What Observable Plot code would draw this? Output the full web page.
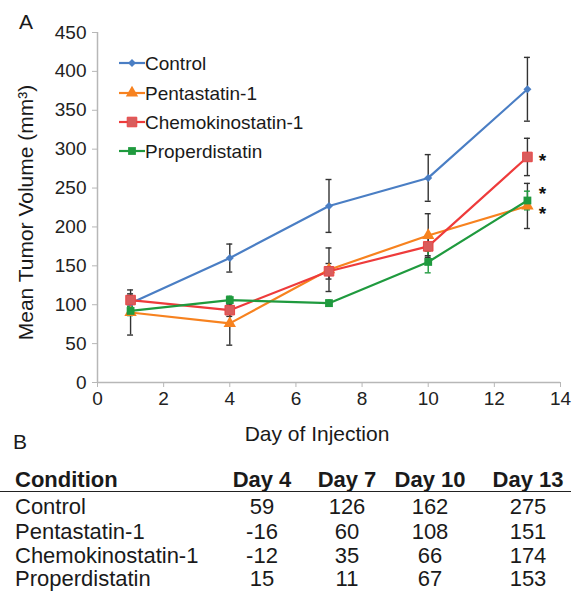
<!DOCTYPE html>
<html>
<head>
<meta charset="utf-8">
<script src="https://cdn.jsdelivr.net/npm/d3@7"></script>
<script src="https://cdn.jsdelivr.net/npm/@observablehq/plot@0.6"></script>
<style>
  html, body { margin: 0; padding: 0; background: #fff; }
  #wrap { position: relative; width: 579px; height: 597px; font-family: "Liberation Sans", Arial, sans-serif; color: #1a1a1a; overflow: hidden; }
  .abs { position: absolute; white-space: nowrap; line-height: 1; }
  .legrow { position: absolute; display: flex; align-items: center; font-size: 19px; line-height: 1; white-space: nowrap; }
  .c { transform: translateX(-50%); }
</style>
</head>
<body>
<div id="wrap"></div>
<script>
// ---- Data (panel A) ----
const days = [1, 4, 7, 10, 13];
const seriesNames = ["Control", "Pentastatin-1", "Chemokinostatin-1", "Properdistatin"];
const controlMean = [102, 160, 227, 263, 377];
const controlErr  = [10, 18, 34, 30, 41];
const pentaMean   = [90, 76, 145, 189, 227];
const pentaErr    = [29, 28, 28, 28, 29];
const chemoMean   = [106, 93, 143, 175, 290];
const chemoErr    = [8, 8, 10, 12, 24];
const properMean  = [92, 106, 102, 155, 234];
const properErr   = [6, 5, 4, 14, 12];
const significant = ["Chemokinostatin-1", "Properdistatin", "Pentastatin-1"]; // marked * at day 13
const xTicks = [0, 2, 4, 6, 8, 10, 12, 14];
const yTicks = [0, 50, 100, 150, 200, 250, 300, 350, 400, 450];

// ---- Data (panel B table) ----
const tableHeader = ["Condition", "Day 4", "Day 7", "Day 10", "Day 13"];
const tableConditions = ["Control", "Pentastatin-1", "Chemokinostatin-1", "Properdistatin"];
const tControl = [59, 126, 162, 275];
const tPenta   = [-16, 60, 108, 151];
const tChemo   = [-12, 35, 66, 174];
const tProper  = [15, 11, 67, 153];

// ---- Styles ----
const lineColors   = ["#4a7ec4", "#f7821f", "#ee3b3b", "#1f9a3e"];
const markerFills  = ["#4a7ec4", "#f7821f", "#d95c5c", "#1f9a3e"];
const markerSymbols = ["diamond2", "triangle", "square", "square"];
const markerR      = [3.6, 4.6, 5.4, 4.4];
const errColors    = ["#333", "#333", "#333", "#1f9a3e"];
const starDy       = {"Chemokinostatin-1": 4, "Properdistatin": -7, "Pentastatin-1": 8};

const means = [controlMean, pentaMean, chemoMean, properMean];
const errs = [controlErr, pentaErr, chemoErr, properErr];
const data = [];
seriesNames.forEach((s, i) => days.forEach((d, j) => data.push({series: s, si: i, day: d, value: means[i][j], err: errs[i][j]})));

const gray = "#b7b7b7";
const capHalf = 0.09;

const marks = [
  Plot.ruleY([0], {stroke: gray, strokeWidth: 1.5}),
  Plot.ruleX([0], {stroke: gray, strokeWidth: 1.5}),
  Plot.axisY({ticks: yTicks, tickSize: 5, tickPadding: 6, stroke: gray, fill: "#222", label: null, fontSize: 19}),
  Plot.axisX({ticks: xTicks, tickSize: 5, tickPadding: 4, stroke: gray, fill: "#222", label: null, fontSize: 19}),
  // error bars
  Plot.ruleX(data, {x: "day", y1: d => d.value - d.err, y2: d => d.value + d.err, stroke: d => errColors[d.si], strokeWidth: 1.4}),
  Plot.ruleY(data, {y: d => d.value - d.err, x1: d => d.day - capHalf, x2: d => d.day + capHalf, stroke: d => errColors[d.si], strokeWidth: 1.4}),
  Plot.ruleY(data, {y: d => d.value + d.err, x1: d => d.day - capHalf, x2: d => d.day + capHalf, stroke: d => errColors[d.si], strokeWidth: 1.4}),
];
seriesNames.forEach((s, i) => {
  const sd = data.filter(d => d.series === s);
  marks.push(Plot.line(sd, {x: "day", y: "value", stroke: lineColors[i], strokeWidth: 2.2}));
});
seriesNames.forEach((s, i) => {
  const sd = data.filter(d => d.series === s);
  marks.push(Plot.dot(sd, {x: "day", y: "value", symbol: () => markerSymbols[i], fill: markerFills[i], stroke: i === 2 ? "#e84545" : "none", strokeWidth: 1, r: markerR[i]}));
});
significant.forEach(s => {
  const last = data.filter(d => d.series === s && d.day === days[days.length - 1]);
  marks.push(Plot.text(last, {x: "day", y: "value", text: () => "*", dx: 15, dy: starDy[s], fontSize: 19, fontWeight: "bold", fill: "#111"}));
});
marks.push(Plot.text(["Day of Injection"], {frameAnchor: "bottom", text: d => d, dy: 58, dx: -12, fontSize: 21, fill: "#1a1a1a"}));
marks.push(Plot.text(["Mean Tumor Volume (mm³)"], {frameAnchor: "left", textAnchor: "middle", text: d => d, rotate: -90, dx: -71, dy: 5, fontSize: 21, fill: "#1a1a1a"}));

const chart = Plot.plot({
  width: 579,
  height: 455,
  marginLeft: 97,
  marginRight: 19,
  marginTop: 32,
  marginBottom: 73,
  x: {domain: [0, 14]},
  y: {domain: [0, 450]},
  symbol: {type: "identity"},
  style: {fontFamily: "'Liberation Sans', Arial, sans-serif", background: "white", color: "#222", overflow: "visible"},
  marks
});

const wrap = document.getElementById("wrap");
chart.style.position = "absolute";
chart.style.left = "0px";
chart.style.top = "0px";
wrap.appendChild(chart);

function addDiv(text, left, top, size, extra = "") {
  const el = document.createElement("div");
  el.className = "abs";
  el.textContent = text;
  el.style.left = left + "px";
  el.style.top = top + "px";
  el.style.fontSize = size + "px";
  el.style.cssText += extra;
  wrap.appendChild(el);
  return el;
}

// panel letters
addDiv("A", 19, 11, 21);
addDiv("B", 13, 431, 21);

// legend
const legTops = [63, 93, 122, 151];
seriesNames.forEach((s, i) => {
  const row = document.createElement("div");
  row.className = "legrow";
  row.style.left = "119px";
  row.style.top = (legTops[i] - 10) + "px";
  row.style.height = "20px";
  const svg = d3.create("svg").attr("width", 26).attr("height", 20).style("display", "block");
  svg.append("line").attr("x1", 0).attr("x2", 26).attr("y1", 10).attr("y2", 10).attr("stroke", lineColors[i]).attr("stroke-width", 2.2);
  const sym = {diamond2: d3.symbolDiamond2, triangle: d3.symbolTriangle, square: d3.symbolSquare}[markerSymbols[i]];
  const area = Math.PI * markerR[i] * markerR[i];
  svg.append("path").attr("d", d3.symbol(sym, area)()).attr("transform", "translate(13,10)").attr("fill", markerFills[i]).attr("stroke", i === 2 ? "#e84545" : "none");
  row.appendChild(svg.node());
  const t = document.createElement("span");
  t.textContent = s;
  row.appendChild(t);
  wrap.appendChild(row);
});

// table (panel B)
const colCenters = [262, 347, 430, 528];
const headTop = 469;
const rowTops = [496, 521, 545, 568];
const tableVals = [tControl, tPenta, tChemo, tProper];
addDiv(tableHeader[0], 15, headTop, 22, "font-weight:bold;");
tableHeader.slice(1).forEach((h, j) => {
  const el = addDiv(h, colCenters[j], headTop, 22, "font-weight:bold;");
  el.classList.add("c");
});
const rule = document.createElement("div");
rule.style.cssText = "position:absolute;left:0px;top:491px;width:571px;height:0;border-top:1.6px solid #222;";
wrap.appendChild(rule);
tableConditions.forEach((c, i) => {
  addDiv(c, 15, rowTops[i], 22);
  tableVals[i].forEach((v, j) => {
    const el = addDiv(String(v), colCenters[j], rowTops[i], 22);
    el.classList.add("c");
  });
});
</script>
</body>
</html>
